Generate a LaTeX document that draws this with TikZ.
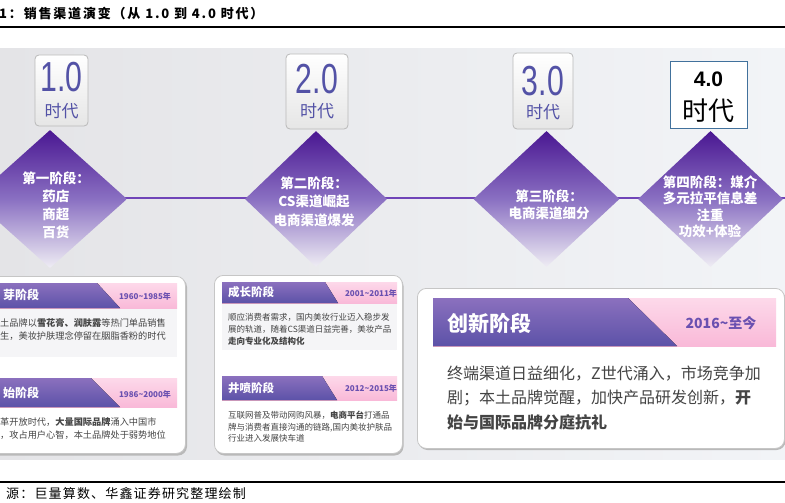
\documentclass[tikz,border=0pt]{standalone}
\usepackage{fontspec}
\usepackage{graphicx}
\setmainfont{Noto Sans CJK SC}
\newfontfamily\latf{Liberation Sans}
\newfontfamily\ttlfont{Noto Sans CJK SC}[LetterSpace=14]
\newfontfamily\srcfont{Noto Sans CJK SC}[LetterSpace=9]
\usetikzlibrary{shapes.geometric}
\newcommand\fsz[2]{\fontsize{#1}{#2}\selectfont}
\newcommand\tld{{\char`\~}}
\definecolor{eracol}{HTML}{5352A6}
\definecolor{dtop}{HTML}{4A1792}
\definecolor{dmid}{HTML}{8A70C2}
\definecolor{dbot}{HTML}{EFEDF4}
\definecolor{hdtop}{HTML}{8B70BE}
\definecolor{hdbot}{HTML}{5C52A8}
\definecolor{pinktop}{HTML}{FDD9EA}
\definecolor{pinkbot}{HTML}{F9B9D8}
\definecolor{datecol}{HTML}{6A50B0}
\definecolor{bodytxt}{HTML}{444444}
\definecolor{bgl}{HTML}{E4E4E7}
\definecolor{bgr}{HTML}{F2F4F7}
\definecolor{linecol}{HTML}{7045B8}
\definecolor{box4col}{HTML}{41719C}
\definecolor{bodybg}{HTML}{F5F5F7}
\tikzset{
  erabox/.style={draw=gray!55, rounded corners=4pt, top color=white, bottom color=gray!20, line width=0.8pt, inner sep=0pt},
  eranum/.style={text=eracol, inner sep=0pt, font=\latf\fsz{42}{42}},
  eratxt/.style={text=eracol, inner sep=0pt, font=\fsz{17}{17}},
  dia/.style={diamond, inner sep=0pt, draw=none, top color=dtop, bottom color=dbot, middle color=dmid},
  dtext/.style={text=white, align=center, inner sep=0pt, font=\bfseries\fsz{13.5}{17.5}},
  card/.style={fill=white, draw=gray!45, line width=0.8pt, rounded corners=9pt, inner sep=0pt},
  cshadow/.style={fill=gray!55, rounded corners=9pt},
  pinkband/.style={top color=pinktop, bottom color=pinkbot, draw=none},
  purpband/.style={top color=hdtop, bottom color=hdbot, draw=none},
  hdtext/.style={text=white, anchor=west, inner sep=0pt},
  datetxt/.style={text=datecol, inner sep=0pt},
  body/.style={text=bodytxt, anchor=west, align=left, inner sep=0pt}
}
\begin{document}
\begin{tikzpicture}[x=1pt,y=-1pt]
\useasboundingbox (0,0) rectangle (785,503);
\clip (0,0) rectangle (785,503);
\fill[white] (0,0) rectangle (785,503);
% background
\shade[left color=bgl, right color=bgr] (0,49) rectangle (785,459);
% title and rules
\node[anchor=west, inner sep=0pt, font=\ttlfont\bfseries\fsz{13}{13}] (title) at (-1,14) {1：销售渠道演变（从 1.0 到 4.0 时代）};
\coordinate (r1a) at (0,27); \coordinate (r1b) at (785,27);
\draw[line width=1.1pt] (r1a) -- (r1b);
\coordinate (r2a) at (0,482); \coordinate (r2b) at (785,482);
\draw[line width=1.1pt] (r2a) -- (r2b);
\node[anchor=west, inner sep=0pt, font=\srcfont\fsz{13}{13}] (source) at (6,494) {源：巨量算数、华鑫证券研究整理绘制};
% timeline
\coordinate (ls) at (0,198); \coordinate (le) at (785,198);
\draw[linecol, line width=2.6pt] (ls) -- (le);
% era boxes
\node[erabox, minimum width=53, minimum height=71] (b1) at (61.5,90.5) {};
\node[erabox, minimum width=62, minimum height=75] (b2) at (317,91.5) {};
\node[erabox, minimum width=60, minimum height=76] (b3) at (543,91) {};
\node[draw=box4col, fill=white, line width=1pt, minimum width=77, minimum height=66, inner sep=0pt] (b4) at (708.5,95) {};
\node[eranum] (n1) at (61.5,77.5) {\scalebox{0.72}[1]{1.0}};
\node[eranum] (n2) at (317,79) {\scalebox{0.72}[1]{2.0}};
\node[eranum] (n3) at (543,81) {\scalebox{0.72}[1]{3.0}};
\node[inner sep=0pt, font=\latf\bfseries\fsz{21}{21}] (n4) at (708.5,79.5) {4.0};
\node[eratxt] (s1) at (61.5,111) {时代};
\node[eratxt] (s2) at (317,111) {时代};
\node[eratxt] (s3) at (543,112) {时代};
\node[inner sep=0pt, font=\fsz{26}{26}] (s4) at (708.5,111) {时代};
% diamonds
\node[dia, minimum width=154, minimum height=138] (d1) at (50,199) {};
\node[dia, minimum width=142, minimum height=136] (d2) at (316,199) {};
\node[dia, minimum width=146, minimum height=136] (d3) at (546.5,199) {};
\node[dia, minimum width=145, minimum height=136] (d4) at (710.5,199) {};
\node[dtext, font=\bfseries\fsz{13.5}{18}] (t1) at (56,205) {第一阶段：\\药店\\商超\\百货};
\node[dtext, font=\bfseries\fsz{13.5}{18.5}] (t2) at (314,201.5) {第二阶段：\\CS渠道崛起\\电商渠道爆发};
\node[dtext, font=\bfseries\fsz{13.5}{17}] (t3) at (549,205) {第三阶段：\\电商渠道细分};
\node[dtext, font=\bfseries\fsz{13.5}{16.5}] (t4) at (710,207) {第四阶段：媒介\\多元拉平信息差\\注重\\功效+体验};
% card 1
\fill[cshadow] (-20,278) rectangle (187,455.5);
\node[card, minimum width=205, minimum height=177, anchor=north west] (c1) at (-20,276) {};
\fill[bodybg] (-5,308) rectangle (177,357);
\fill[pinkband] (-5,283) rectangle (177,308);
\fill[purpband] (-5,283) -- (97,283) -- (120,308) -- (-5,308) -- cycle;
\fill[pinkband] (-5,378) rectangle (177,407);
\fill[purpband] (-5,378) -- (91,378) -- (120,407) -- (-5,407) -- cycle;
\node[hdtext, font=\bfseries\fsz{12}{12}] (h11) at (3,295) {芽阶段};
\node[hdtext, font=\bfseries\fsz{12}{12}] (h12) at (3,393) {始阶段};
\node[datetxt, font=\bfseries\fsz{8}{8}] (dt11) at (145,296) {1960\tld{}1985年};
\node[datetxt, font=\bfseries\fsz{8}{8}] (dt12) at (145,394) {1986\tld{}2000年};
\node[body, font=\fsz{9.2}{13}] (bd11) at (0,329.5) {土品牌以\textbf{雪花膏、润肤露}等热门单品销售\\生，美妆护肤理念停留在胭脂香粉的时代};
\node[body, font=\fsz{9.2}{13}] (bd12) at (0,428.5) {革开放时代，\textbf{大量国际品牌}涌入中国市\\，攻占用户心智，本土品牌处于弱势地位};
% card 2
\fill[cshadow] (215.5,277) rectangle (403.5,455.5);
\node[card, minimum width=188, minimum height=178, anchor=north west] (c2) at (214,275) {};
\fill[bodybg] (222,303) rectangle (397,350);
\fill[pinkband] (222,282) rectangle (397,303);
\fill[purpband] (222,282) -- (325,282) -- (338,303) -- (222,303) -- cycle;
\fill[pinkband] (222,376) rectangle (397,400);
\fill[purpband] (222,376) -- (322,376) -- (337,400) -- (222,400) -- cycle;
\node[hdtext, font=\bfseries\fsz{11.5}{11.5}] (h21) at (228,292.5) {成长阶段};
\node[hdtext, font=\bfseries\fsz{11.5}{11.5}] (h22) at (228,388) {井喷阶段};
\node[datetxt, font=\bfseries\fsz{8}{8}] (dt21) at (371,293) {2001\tld{}2011年};
\node[datetxt, font=\bfseries\fsz{8}{8}] (dt22) at (371,388.5) {2012\tld{}2015年};
\node[body, font=\fsz{8.5}{12}] (bd21) at (228,329) {顺应消费者需求，国内美妆行业迈入稳步发\\展的轨道，随着CS渠道日益完善，美妆产品\\\textbf{走向专业化及结构化}};
\node[body, font=\fsz{8.5}{11.5}] (bd22) at (228,427) {互联网普及带动网购风暴，\textbf{电商平台}打通品\\牌与消费者直接沟通的链路,国内美妆护肤品\\行业进入发展快车道};
% card 3
\fill[cshadow] (418.5,290) rectangle (785.5,450);
\node[card, minimum width=367, minimum height=160, anchor=north west] (c3) at (417,288) {};
\fill[pinkband] (433,298) rectangle (776,346);
\fill[purpband] (433,298) -- (628,298) -- (677,346) -- (433,346) -- cycle;
\node[hdtext, font=\bfseries\fsz{21}{21}] (h3) at (447,323) {创新阶段};
\node[datetxt, font=\bfseries\fsz{14}{14}] (dt3) at (721,323) {2016\tld{}至今};
\node[body, font=\fsz{16}{24.5}] (bd3) at (447,398) {终端渠道日益细化，Z世代涌入，市场竞争加\\剧；本土品牌觉醒，加快产品研发创新，\textbf{开}\\\textbf{始与国际品牌分庭抗礼}};
\end{tikzpicture}
\end{document}
